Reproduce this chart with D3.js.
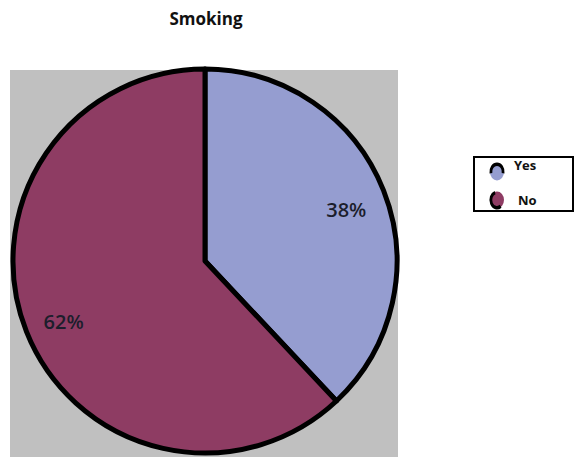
<!DOCTYPE html>
<html>
<head>
<meta charset="utf-8">
<script src="https://cdn.jsdelivr.net/npm/d3@7"></script>
<style>
  body { margin: 0; background: #fff; }
  text { font-family: "Open Sans", "DejaVu Sans", sans-serif; }
</style>
</head>
<body>
<script>
const categories = ["Yes", "No"];
const values = [38, 62];
const labels = ["38%", "62%"];
const colors = ["#959dd0", "#8e3c63"];

const width = 574, height = 457;
const cx = 205, cy = 261, radius = 192;

const svg = d3.select("body").append("svg")
  .attr("width", width)
  .attr("height", height);

// grey plot area
svg.append("rect")
  .attr("x", 10).attr("y", 70)
  .attr("width", 388).attr("height", 387)
  .attr("fill", "#c0c0c0");

svg.append("text")
  .attr("x", 206).attr("y", 25)
  .attr("text-anchor", "middle")
  .attr("font-size", 17)
  .attr("font-weight", "bold")
  .attr("fill", "#111")
  .text("Smoking");

const pie = d3.pie().sort(null).value(d => d.value);
const arcs = pie(categories.map((c, i) => ({ name: c, value: values[i], label: labels[i] })));

const arc = d3.arc().innerRadius(0).outerRadius(radius);
const labelArc = d3.arc().innerRadius(152).outerRadius(152);

const g = svg.append("g")
  .attr("transform", `translate(${cx},${cy})`);

g.selectAll("path")
  .data(arcs)
  .join("path")
    .attr("d", arc)
    .attr("fill", (d, i) => colors[i])
    .attr("stroke", "#000")
    .attr("stroke-width", 5)
    .attr("stroke-linejoin", "round");

g.selectAll("text.pct")
  .data(arcs)
  .join("text")
    .attr("class", "pct")
    .attr("transform", d => `translate(${labelArc.centroid(d)})`)
    .attr("text-anchor", "middle")
    .attr("dy", "0.6em")
    .attr("font-size", 20)
    .attr("font-weight", "600")
    .attr("fill", "#1c1e2c")
    .text(d => d.data.label);

// legend
const legend = svg.append("g");
legend.append("rect")
  .attr("x", 474).attr("y", 157)
  .attr("width", 99).attr("height", 54)
  .attr("fill", "#fff")
  .attr("stroke", "#000")
  .attr("stroke-width", 2);

const item = legend.selectAll("g.item")
  .data(categories)
  .join("g")
    .attr("class", "item")
    .attr("transform", (d, i) => `translate(497, ${172 + i * 28})`);

item.append("ellipse")
  .attr("rx", 7).attr("ry", 8.5)
  .attr("fill", (d, i) => colors[i]);

// partial black rim on each marker
const rimArc = d3.arc().innerRadius(6).outerRadius(9.5);
item.append("path")
  .attr("d", (d, i) => i === 0
    ? rimArc({ startAngle: -Math.PI * 0.55, endAngle: Math.PI * 0.55 })
    : rimArc({ startAngle: Math.PI * 0.8, endAngle: Math.PI * 1.9 }))
  .attr("transform", "scale(0.8,1)")
  .attr("fill", "#000");

item.append("text")
  .attr("x", (d, i) => i === 0 ? 17 : 21)
  .attr("y", (d, i) => i === 0 ? -2 : 5)
  .attr("font-size", 13)
  .attr("font-weight", "bold")
  .attr("fill", "#111")
  .text(d => d);
</script>
</body>
</html>
